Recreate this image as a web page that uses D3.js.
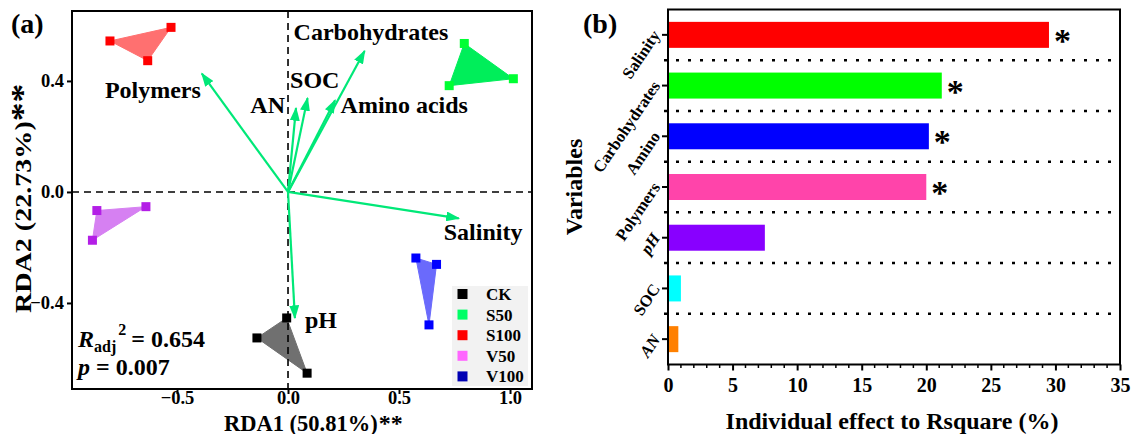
<!DOCTYPE html>
<html>
<head>
<meta charset="utf-8">
<script src="https://cdn.jsdelivr.net/npm/d3@7"></script>
<style>
  html, body { margin: 0; padding: 0; background: #fff; }
  svg { display: block; }
  text { font-family: "Liberation Serif", "Times New Roman", serif; font-weight: bold; }
</style>
</head>
<body>
<svg id="chart" width="1135" height="434"></svg>
<script>
// ---------- Panel (a) data: RDA biplot ----------
const groups = ["CK", "S50", "S100", "V50", "V100"];
const legendColors = ["#000000", "#00ff66", "#ff0000", "#ff66ff", "#0000b4"];
const pointColors = ["#000000", "#00ff33", "#ff0000", "#b31ee6", "#0000ff"];
const hullColors = ["#707070", "#00ee5a", "#ff7070", "#d680f2", "#6a6afc"];

const siteGroup = ["CK", "CK", "CK", "S50", "S50", "S50", "S100", "S100", "S100",
                   "V50", "V50", "V50", "V100", "V100", "V100"];
const siteRDA1 = [-0.006, -0.140, 0.086, 0.794, 1.015, 0.726, -0.802, -0.527, -0.632,
                  -0.861, -0.640, -0.881, 0.576, 0.669, 0.635];
const siteRDA2 = [-0.454, -0.526, -0.653, 0.535, 0.408, 0.383, 0.544, 0.593, 0.473,
                  -0.067, -0.053, -0.174, -0.238, -0.261, -0.479];

const envNames = ["Polymers", "Carbohydrates", "SOC", "AN", "Amino acids", "Salinity", "pH"];
const envRDA1 = [-0.388, 0.345, 0.088, 0.036, 0.212, 0.769, 0.031];
const envRDA2 = [0.426, 0.508, 0.338, 0.302, 0.330, -0.095, -0.454];

const xTicksA = [-0.5, 0.0, 0.5, 1.0];
const yTicksA = [-0.4, 0.0, 0.4];
const r2adj = "0.654";
const pValue = "0.007";

// ---------- Panel (b) data: individual effects ----------
const variables = ["Salinity", "Carbohydrates", "Amino", "Polymers", "pH", "SOC", "AN"];
const effects = [29.5, 21.2, 20.2, 20.0, 7.5, 1.0, 0.8];
const significant = [true, true, true, true, false, false, false];
const barColors = ["#ff0000", "#00ff00", "#0000ff", "#ff44aa", "#8800ff", "#00ffff", "#ff8000"];
const xTicksB = [0, 5, 10, 15, 20, 25, 30, 35];

// ---------- drawing ----------
const svg = d3.select("#chart");
const arrowColor = "#00e878";
const FONT = "Liberation Serif, Times New Roman, serif";

// Panel (a)
const A = { left: 72, right: 532, top: 11, bottom: 389 };
const xA = d3.scaleLinear().domain([-0.973, 1.099]).range([A.left, A.right]);
const yA = d3.scaleLinear().domain([-0.71, 0.652]).range([A.bottom, A.top]);

svg.append("defs").append("marker")
  .attr("id", "arrowhead")
  .attr("viewBox", "0 0 10 10")
  .attr("refX", 9).attr("refY", 5)
  .attr("markerWidth", 14).attr("markerHeight", 10)
  .attr("markerUnits", "userSpaceOnUse")
  .attr("preserveAspectRatio", "none")
  .attr("orient", "auto")
  .append("path").attr("d", "M0,0 L10,5 L0,10 z").attr("fill", arrowColor);

const gA = svg.append("g");

// hulls
groups.forEach((g, gi) => {
  const pts = siteGroup.map((s, i) => s === g ? [xA(siteRDA1[i]), yA(siteRDA2[i])] : null).filter(d => d);
  const hull = d3.polygonHull(pts);
  gA.append("path")
    .attr("d", "M" + hull.join("L") + "Z")
    .attr("fill", hullColors[gi])
    .attr("stroke", hullColors[gi]).attr("stroke-width", 1);
});

// zero lines
gA.append("line").attr("x1", A.left).attr("x2", A.right).attr("y1", yA(0)).attr("y2", yA(0))
  .attr("stroke", "#000").attr("stroke-width", 1.6).attr("stroke-dasharray", "7,5");
gA.append("line").attr("x1", xA(0)).attr("x2", xA(0)).attr("y1", A.top).attr("y2", A.bottom)
  .attr("stroke", "#000").attr("stroke-width", 1.6).attr("stroke-dasharray", "7,5");

// arrows
envNames.forEach((n, i) => {
  gA.append("line")
    .attr("x1", xA(0)).attr("y1", yA(0))
    .attr("x2", xA(envRDA1[i])).attr("y2", yA(envRDA2[i]))
    .attr("stroke", arrowColor).attr("stroke-width", 2.2)
    .attr("marker-end", "url(#arrowhead)");
});

// points
siteGroup.forEach((g, i) => {
  const gi = groups.indexOf(g);
  gA.append("rect")
    .attr("x", xA(siteRDA1[i]) - 4.5).attr("y", yA(siteRDA2[i]) - 4.5)
    .attr("width", 9).attr("height", 9)
    .attr("fill", pointColors[gi]);
});

// env labels
const labelLayout = {
  "Polymers": { dx: -1, dy: 24, anchor: "end" },
  "Carbohydrates": { dx: -71, dy: -11, anchor: "start" },
  "SOC": { dx: -17.5, dy: -10, anchor: "start" },
  "AN": { dx: -11, dy: 5, anchor: "end" },
  "Amino acids": { dx: 5.5, dy: 12.5, anchor: "start" },
  "Salinity": { dx: -15, dy: 22, anchor: "start" },
  "pH": { dx: 10, dy: 10, anchor: "start" }
};
envNames.forEach((n, i) => {
  const L = labelLayout[n];
  gA.append("text")
    .attr("x", xA(envRDA1[i]) + L.dx).attr("y", yA(envRDA2[i]) + L.dy)
    .attr("text-anchor", L.anchor)
    .attr("font-size", 24).text(n);
});

// frame
gA.append("rect").attr("x", A.left).attr("y", A.top)
  .attr("width", A.right - A.left).attr("height", A.bottom - A.top)
  .attr("fill", "none").attr("stroke", "#000").attr("stroke-width", 2);

// axes
const axA_x = gA.append("g").attr("transform", `translate(0,${A.bottom})`)
  .call(d3.axisBottom(xA).tickValues(xTicksA).tickFormat(d3.format(".1f")).tickSize(5).tickSizeOuter(0));
const axA_y = gA.append("g").attr("transform", `translate(${A.left},0)`)
  .call(d3.axisLeft(yA).tickValues(yTicksA).tickFormat(d3.format(".1f")).tickSize(5).tickSizeOuter(0));
[axA_x, axA_y].forEach(ax => {
  ax.attr("font-family", null).attr("font-size", null);
  ax.select(".domain").remove();
  ax.selectAll(".tick line").attr("stroke", "#000").attr("stroke-width", 2);
  ax.selectAll(".tick text").attr("font-size", 18.5).attr("fill", "#000")
    .attr("font-family", FONT).attr("font-weight", "bold");
});
axA_x.selectAll(".tick text").attr("y", 2).attr("dy", "0.72em");
axA_y.selectAll(".tick text").attr("x", -8);

// legend
const legG = gA.append("g");
legG.append("rect").attr("x", 452).attr("y", 286).attr("width", 76).attr("height", 100).attr("fill", "#f2f2f2");
groups.forEach((g, gi) => {
  const cy = 294 + gi * 20.6;
  legG.append("rect").attr("x", 457.5).attr("y", cy - 5).attr("width", 10).attr("height", 10).attr("fill", legendColors[gi]);
  legG.append("text").attr("x", 486).attr("y", cy + 6).attr("font-size", 17).text(g);
});

// stats text
const st = gA.append("text").attr("x", 78).attr("y", 347).attr("font-size", 24);
st.append("tspan").attr("font-style", "italic").text("R");
st.append("tspan").attr("font-size", 16).attr("dy", 5).text("adj");
st.append("tspan").attr("font-size", 16).attr("dy", -17).attr("dx", 2).text("2");
st.append("tspan").attr("dy", 12).attr("dx", 5).text("= " + r2adj);
const pt = gA.append("text").attr("x", 78).attr("y", 375).attr("font-size", 24);
pt.append("tspan").attr("font-style", "italic").text("p");
pt.append("tspan").text(" = " + pValue);

// axis titles
const xt = gA.append("text").attr("x", 224).attr("y", 430.5).attr("font-size", 22.5);
xt.append("tspan").text("RDA1 (50.81%)");
xt.append("tspan").attr("font-size", 24).attr("dx", 1).text("**");

const ytG = gA.append("g").attr("transform", "translate(31,313) rotate(-90) scale(1.17,1)");
const yt = ytG.append("text").attr("x", 0).attr("y", 0).attr("font-size", 24);
yt.append("tspan").text("RDA2 (22.73%)");
yt.append("tspan").attr("font-size", 32).attr("dy", 2).text("**");

svg.append("text").attr("x", 11).attr("y", 33).attr("font-size", 28).text("(a)");

// Panel (b)
const B = { left: 668, right: 1120, top: 9.5, bottom: 364.5 };
const xB = d3.scaleLinear().domain([0, 35]).range([B.left, B.right]);
const yB = d3.scaleBand().domain(variables).range([B.top, B.bottom]).paddingInner(0).paddingOuter(0);
const barH = 26;
const gB = svg.append("g");

// separators
variables.slice(1).forEach(v => {
  const y = yB(v);
  gB.append("line").attr("x1", B.left - 4).attr("x2", B.right).attr("y1", y).attr("y2", y)
    .attr("stroke", "#000").attr("stroke-width", 2.5).attr("stroke-dasharray", "3,9");
});

// bars
variables.forEach((v, i) => {
  const cy = yB(v) + yB.bandwidth() / 2;
  gB.append("rect").attr("x", xB(0)).attr("y", cy - barH / 2)
    .attr("width", xB(effects[i]) - xB(0)).attr("height", barH)
    .attr("fill", barColors[i]);
  if (significant[i]) {
    gB.append("text").attr("x", xB(effects[i]) + 5).attr("y", cy + 17)
      .attr("font-size", 34).attr("font-weight", "normal").text("*");
  }
});

// frame
gB.append("rect").attr("x", B.left).attr("y", B.top)
  .attr("width", B.right - B.left).attr("height", B.bottom - B.top)
  .attr("fill", "none").attr("stroke", "#000").attr("stroke-width", 2);

// y axis ticks + labels
const axB_y = gB.append("g").attr("transform", `translate(${B.left},0)`)
  .call(d3.axisLeft(yB).tickSize(6).tickSizeOuter(0));
axB_y.select(".domain").remove();
axB_y.selectAll(".tick line").attr("stroke", "#000").attr("stroke-width", 2);
axB_y.selectAll(".tick text").remove();
variables.forEach(v => {
  const cy = yB(v) + yB.bandwidth() / 2;
  gB.append("text")
    .attr("transform", `translate(${B.left - 12},${cy - 3}) rotate(-56)`)
    .attr("text-anchor", "end").attr("dy", "0.35em")
    .attr("font-size", 16.5)
    .attr("font-style", v === "pH" || v === "AN" ? "italic" : "normal")
    .text(v);
});

// x axis
const axB_x = gB.append("g").attr("transform", `translate(0,${B.bottom})`)
  .call(d3.axisBottom(xB).tickValues(xTicksB).tickSize(6).tickSizeOuter(0));
axB_x.attr("font-family", null).attr("font-size", null);
axB_x.select(".domain").remove();
axB_x.selectAll(".tick line").attr("stroke", "#000").attr("stroke-width", 2);
axB_x.selectAll(".tick text").attr("font-size", 20).attr("fill", "#000").attr("y", 12).attr("dy", "0.75em")
  .attr("font-family", FONT).attr("font-weight", "bold");
const minor = d3.range(0, 36, 1).filter(d => d % 5 !== 0);
gB.selectAll(".minorTick").data(minor).enter().append("line")
  .attr("x1", d => xB(d)).attr("x2", d => xB(d))
  .attr("y1", B.bottom).attr("y2", B.bottom + 3.5)
  .attr("stroke", "#000").attr("stroke-width", 1.5);

gB.append("text").attr("x", (B.left + B.right) / 2 - 2).attr("y", 429)
  .attr("text-anchor", "middle").attr("font-size", 24).text("Individual effect to Rsquare (%)");
gB.append("text").attr("transform", `translate(582,${(B.top + B.bottom) / 2}) rotate(-90)`)
  .attr("text-anchor", "middle").attr("font-size", 24).text("Variables");

svg.append("text").attr("x", 583).attr("y", 33).attr("font-size", 28).text("(b)");
</script>
</body>
</html>
